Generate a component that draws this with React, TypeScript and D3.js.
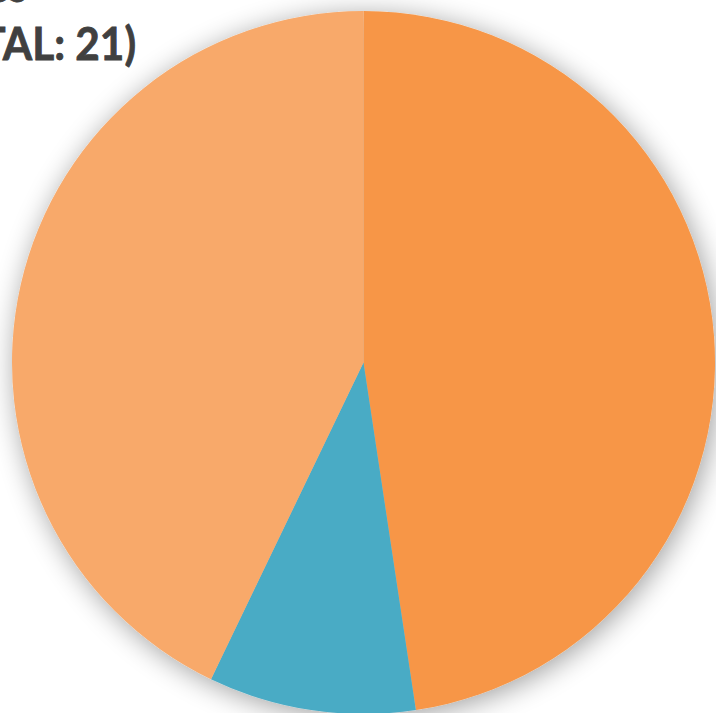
import React from "react";
import * as d3 from "d3";

const categories = ["Category A", "Category B", "Category C"];
const values = [10, 2, 9];
const colors = ["#F79646", "#4AABC5", "#F8A96A"];
const titleLines = ["Categories", "(TOTAL: 21)"];

export default function App() {
  const W = 716, H = 713;
  const cx = 363.5, cy = 362.5, r = 351.5;
  const pie = d3.pie<number>().sort(null).value((d) => d)(values);
  const arc = d3.arc<d3.PieArcDatum<number>>().innerRadius(0).outerRadius(r);
  return (
    <svg width={W} height={H} style={{ position: "fixed", left: 0, top: 0, background: "#fff" }}>
      <defs>
        <filter id="sh" x="-20%" y="-20%" width="140%" height="140%">
          <feGaussianBlur in="SourceAlpha" stdDeviation="14" />
          <feOffset dx="3" dy="4" result="b" />
          <feComponentTransfer>
            <feFuncA type="linear" slope="0.38" />
          </feComponentTransfer>
          <feMerge>
            <feMergeNode />
            <feMergeNode in="SourceGraphic" />
          </feMerge>
        </filter>
      </defs>
      <g transform={`translate(${cx},${cy})`} filter="url(#sh)">
        {pie.map((p, i) => (
          <path key={categories[i]} d={arc(p) || ""} fill={colors[i]} />
        ))}
      </g>
      <g
        fill="#404040"
        fontFamily="Lato, 'Open Sans', sans-serif"
        fontWeight="bold"
        fontSize={46}
        textAnchor="end"
        stroke="#404040"
        strokeWidth={0.8}
        transform="translate(136,0) scale(0.92,1)"
      >
        <text x={-118} y={2}>{titleLines[0]}</text>
        <text x={0} y={60}>{titleLines[1]}</text>
      </g>
    </svg>
  );
}
